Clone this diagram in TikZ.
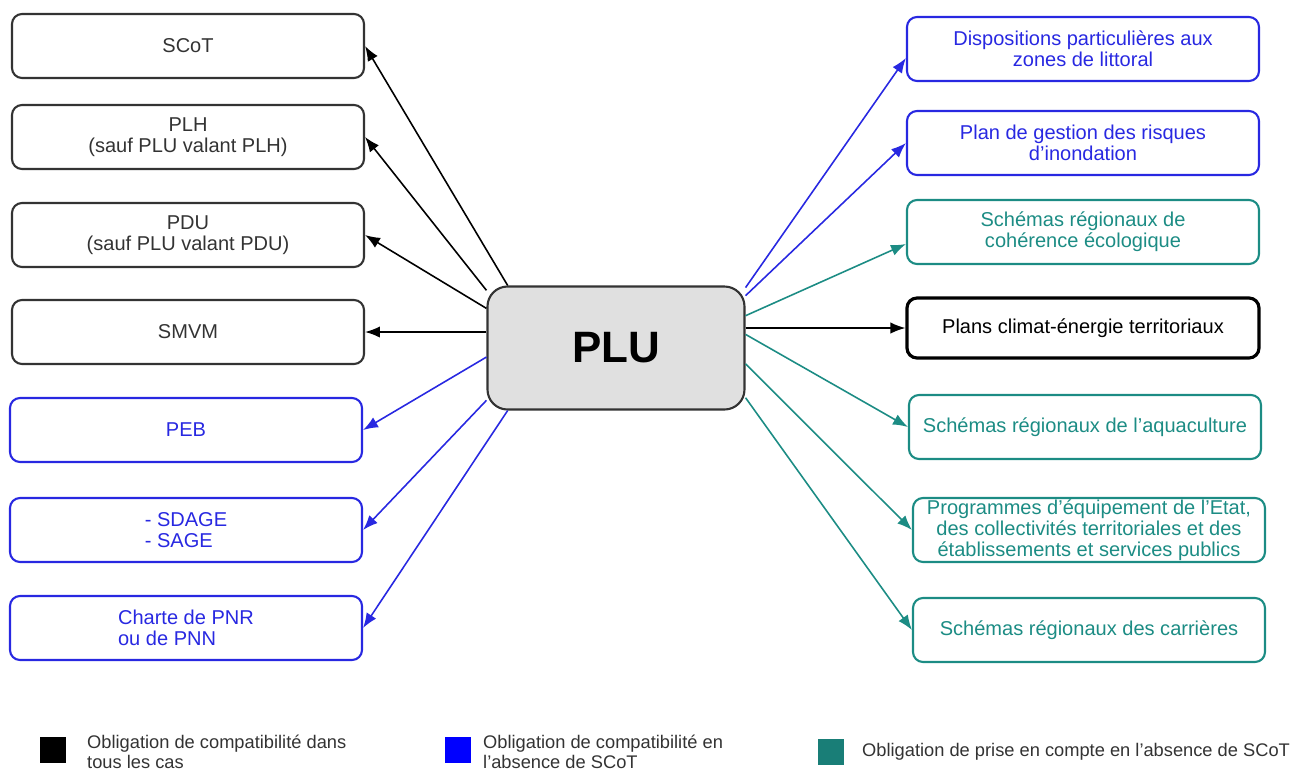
\documentclass[tikz,border=0pt]{standalone}
\usepackage{fontspec}
\setmainfont{Liberation Sans}
\usetikzlibrary{arrows.meta}

\definecolor{pluBlue}{RGB}{40,40,225}
\definecolor{pluTeal}{RGB}{28,140,132}
\definecolor{pluGray}{RGB}{51,51,51}
\definecolor{pluFill}{RGB}{224,224,224}

\begin{document}
\begin{tikzpicture}[x=0.2mm, y=-0.2mm, >={Latex[length=8.5pt,width=6.5pt]},
  cadre/.style={draw, rounded corners=2mm, line width=1.2pt, minimum width=70.4mm,
    minimum height=12.8mm, align=center, inner sep=0.5pt,
    font=\fontsize{11.4}{11.8}\selectfont},
  noir/.style={cadre, draw=pluGray, text=pluGray},
  bleu/.style={cadre, draw=pluBlue, text=pluBlue},
  vert/.style={cadre, draw=pluTeal, text=pluTeal},
  fl/.style={->, line width=0.9pt},
  legsq/.style={minimum size=5.2mm, inner sep=0pt},
  legtxt/.style={anchor=west, align=left, text=pluGray,
    font=\fontsize{10.4}{11.3}\selectfont}]
  \useasboundingbox (0,0) rectangle (1290,771);

  % centre
  \node[draw=pluGray, fill=pluFill, rounded corners=4mm, line width=1.2pt,
    minimum width=51.4mm, minimum height=24.6mm,
    font=\fontsize{25}{30}\selectfont\bfseries] (plu) at (616,348) {PLU};

  % left column
  \node[noir] (scot) at (188,46) {SCoT};
  \node[noir] (plh) at (188,137) {PLH\\(sauf PLU valant PLH)};
  \node[noir] (pdu) at (188,235) {PDU\\(sauf PLU valant PDU)};
  \node[noir] (smvm) at (188,332) {SMVM};
  \node[bleu] (peb) at (186,430) {PEB};
  \node[bleu, align=left] (sdage) at (186,530) {- SDAGE\\- SAGE};
  \node[bleu, align=left] (pnr) at (186,628) {Charte de PNR\\ou de PNN};

  % right column
  \node[bleu] (litt) at (1083,49) {Dispositions particulières aux\\zones de littoral};
  \node[bleu] (inond) at (1083,143) {Plan de gestion des risques\\d’inondation};
  \node[vert] (eco) at (1083,232) {Schémas régionaux de\\cohérence écologique};
  \node[noir, draw=black, text=black, line width=1.8pt, minimum height=12mm]
    (climat) at (1083,328) {Plans climat-énergie territoriaux};
  \node[vert] (aqua) at (1085,427) {Schémas régionaux de l'aquaculture};
  \node[vert] (equip) at (1089,530) {Programmes d’équipement de l'Etat,\\des collectivités territoriales et des\\établissements et services publics};
  \node[vert] (carr) at (1089,630) {Schémas régionaux des carrières};

  \foreach \n/\a in {scot/150, plh/156, pdu/163}
    \draw[fl, black] (plu.\a) -- (\n.east);
  \draw[fl, black] (plu.west |- smvm.east) -- (smvm.east);
  \foreach \n/\a in {peb/184, sdage/202, pnr/210}
    \draw[fl, pluBlue] (plu.\a) -- (\n.east);

  \draw[fl, pluBlue] (plu.25) -- ([yshift=-1.8mm]litt.west);
  \draw[fl, pluBlue] (plu.22) -- (inond.west);
  \draw[fl, pluTeal] (plu.14) -- ([yshift=-2.4mm]eco.west);
  \draw[fl, black] (plu.east |- climat.west) -- (climat.west);
  \foreach \n/\a in {aqua/6, equip/353, carr/339}
    \draw[fl, pluTeal] (plu.\a) -- (\n.west);

  % legend
  \node[legsq, fill=black] (kn) at (53,750) {};
  \node[legtxt] (tn) at (81,752) {Obligation de compatibilité dans\\tous les cas};
  \node[legsq, fill=blue] (kb) at (458,750) {};
  \node[legtxt] (tb) at (477,752) {Obligation de compatibilité en\\l'absence de SCoT};
  \node[legsq, fill=pluTeal!90!black] (kv) at (831,752) {};
  \node[legtxt] (tv) at (856,752) {Obligation de prise en compte en l'absence de SCoT};
\end{tikzpicture}
\end{document}
